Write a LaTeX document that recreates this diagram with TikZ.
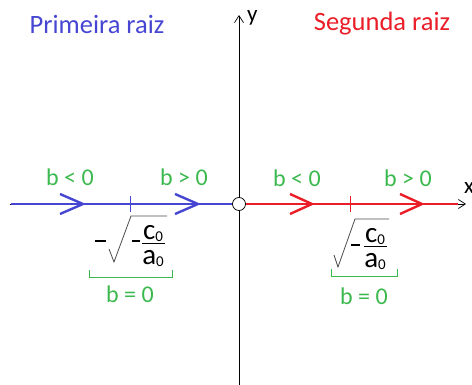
\documentclass[tikz,border=0pt]{standalone}
\usepackage{fontspec}
\setmainfont{Carlito}
\usetikzlibrary{arrows.meta}
\definecolor{rootblue}{HTML}{4646D2}
\definecolor{rootred}{HTML}{EA1E28}
\definecolor{signgreen}{HTML}{3CB94E}
\newcommand{\zsub}{\raisebox{-2pt}[0pt][0pt]{\fontsize{15}{15}\selectfont 0}}

\begin{document}
\begin{tikzpicture}[
  x=1pt,
  y=-1pt,
  every node/.style={inner sep=0pt},
  axis/.style={black, line width=0.7pt, -{Straight Barb[length=7pt, width=9pt]}},
  branch/.style={line width=2.4pt},
  chevron/.style={line width=2.4pt, line join=miter},
  tick/.style={line width=0.8pt},
  radical/.style={black!70, line width=0.8pt},
  minus/.style={black, line width=2.6pt},
  brace/.style={signgreen, line width=0.6pt},
  title/.style={font=\fontsize{26.5}{26.5}\selectfont},
  sign/.style={signgreen, font=\fontsize{24}{24}\selectfont},
  frac/.style={font=\fontsize{29}{29}\selectfont}
]
  % ---- page frame ------------------------------------------------------
  \useasboundingbox (0,0) rectangle (472,385);

  % ---- axes ------------------------------------------------------------
  \draw[axis] (239,385) -- (239,15);
  \node[anchor=west, font=\fontsize{23}{23}\selectfont] (ylab) at (247,18) {y};
  \draw[axis] (10,204) -- (466,204);
  \node[anchor=west, font=\fontsize{23}{23}\selectfont] (xlab) at (464,188) {x};

  % ---- titles ----------------------------------------------------------
  \node[title, rootblue] (first) at (97,24) {Primeira raiz};
  \node[title, rootred] (second) at (382,24) {Segunda raiz};

  % ---- first root, x < 0 -----------------------------------------------
  \draw[branch, rootblue] (11,204) -- (232,204);
  \draw[chevron, rootblue] (60,194) -- (83,204) -- (60,214);
  \draw[chevron, rootblue] (175,194) -- (198,204) -- (175,214);
  \draw[tick, rootblue] (130,196) -- (130,212);

  % ---- second root, x > 0 ----------------------------------------------
  \draw[branch, rootred] (246,204) -- (458,204);
  \draw[chevron, rootred] (290,194) -- (312,204) -- (290,214);
  \draw[chevron, rootred] (400,194) -- (422,204) -- (400,214);
  \draw[tick, rootred] (350,196) -- (350,212);

  % ---- origin ----------------------------------------------------------
  \draw[black, line width=0.7pt, fill=white] (239,204) circle (6.5);

  % ---- sign of b -------------------------------------------------------
  \node[sign] (bneg1) at (70,177) {b < 0};
  \node[sign] (bpos1) at (184,177) {b > 0};
  \node[sign] (bneg2) at (297,178) {b < 0};
  \node[sign] (bpos2) at (408,178) {b > 0};

  % ---- left value: minus root ------------------------------------------
  \draw[minus] (95,241) -- (106,241);
  \draw[radical] (109,249) -- (114,262) -- (131,216) -- (167,216);
  \draw[minus] (132,241) -- (140,241);
  \draw[line width=1pt] (142,244) -- (165,244);
  \node[frac, anchor=base] (c1) at (153,239.5) {c\zsub};
  \node[frac, anchor=north] (a1) at (153,250) {a\zsub};
  \draw[brace] (89,270) -- (89,277) -- (172,277) -- (172,270);
  \node[sign] (bzero1) at (130,294) {b = 0};

  % ---- right value: plus root ------------------------------------------
  \draw[radical] (334,255) -- (338,267) -- (355,219) -- (389,219);
  \draw[minus] (351,245) -- (360,245);
  \draw[line width=1pt] (364,247) -- (387,247);
  \node[frac, anchor=base] (c2) at (375,242.5) {c\zsub};
  \node[frac, anchor=north] (a2) at (375,253) {a\zsub};
  \draw[brace] (331,269) -- (331,276) -- (397,276) -- (397,269);
  \node[sign] (bzero2) at (364,296) {b = 0};
\end{tikzpicture}
\end{document}
